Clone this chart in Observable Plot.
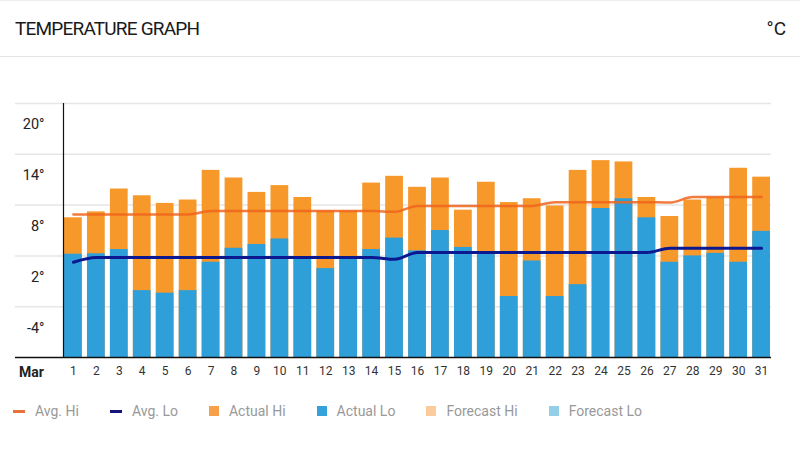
<!DOCTYPE html>
<html>
<head>
<meta charset="utf-8">
<script src="https://cdn.jsdelivr.net/npm/d3@7"></script>
<script src="https://cdn.jsdelivr.net/npm/@observablehq/plot@0.6"></script>
<style>
  html, body { margin: 0; padding: 0; background: #fff; }
  body { width: 800px; height: 452px; overflow: hidden; font-family: "Roboto", sans-serif; }
  #header { position: relative; height: 55px; border-top: 1px solid #eeeeee; border-bottom: 1px solid #e4e4e4; }
  #title { position: absolute; left: 15px; top: 16px; font-size: 19px; color: #1a1a1a; letter-spacing: -0.8px; }
  #unit { position: absolute; right: 14px; top: 16px; font-size: 19px; color: #1a1a1a; }
  #chart { height: 330px; }
  #legend { display: flex; align-items: center; padding-left: 13px; margin-top: 16px; font-family: "Roboto", sans-serif; font-size: 14px; color: #999; }
  .item { display: flex; align-items: center; margin-right: 31px; }
  .sw { margin-right: 10px; }
  .line { width: 12px; height: 3px; }
  .sq { width: 10px; height: 10px; }
</style>
</head>
<body>
<div id="header"><div id="title">TEMPERATURE GRAPH</div><div id="unit">°C</div></div>
<div id="chart"></div>
<div id="legend"></div>
<script>
const days = [1,2,3,4,5,6,7,8,9,10,11,12,13,14,15,16,17,18,19,20,21,22,23,24,25,26,27,28,29,30,31];
const actualHi = [9.0,9.7,12.4,11.6,10.7,11.1,14.6,13.7,12.0,12.8,11.4,9.8,9.8,13.1,13.9,12.6,13.7,9.9,13.2,10.8,11.25,10.4,14.6,15.75,15.6,11.4,9.15,11.1,11.35,14.85,13.8];
const actualLo = [4.7,4.75,5.25,0.4,0.1,0.4,3.75,5.4,5.85,6.5,4.2,3.0,4.2,5.25,6.6,5.1,7.5,5.5,4.9,-0.3,3.9,-0.3,1.1,10.1,11.25,9.0,3.75,4.5,4.8,3.75,7.4];
const avgHi = [9.4,9.4,9.4,9.4,9.4,9.4,9.8,9.8,9.8,9.8,9.8,9.8,9.8,9.8,9.7,10.4,10.4,10.4,10.4,10.4,10.4,10.85,10.85,10.85,10.85,10.85,10.8,11.45,11.45,11.45,11.45];
const avgLo = [3.75,4.3,4.3,4.3,4.3,4.3,4.3,4.3,4.3,4.3,4.3,4.3,4.3,4.3,4.1,4.9,4.9,4.9,4.9,4.9,4.9,4.9,4.9,4.9,4.9,4.9,5.4,5.4,5.4,5.4,5.4];
const yTicks = [20, 14, 8, 2, -4];
const gridValues = [-1.5, 4.5, 10.5, 16.5, 22.5];
const yDomain = [-7.5, 22.5];
const legendItems = [
  {label: "Avg. Hi", color: "#e8713a", kind: "line"},
  {label: "Avg. Lo", color: "#14157a", kind: "line"},
  {label: "Actual Hi", color: "#f7a04a", kind: "sq"},
  {label: "Actual Lo", color: "#35a2dc", kind: "sq"},
  {label: "Forecast Hi", color: "#fccb9c", kind: "sq"},
  {label: "Forecast Lo", color: "#94cfe8", kind: "sq"}
];

const rows = days.map((d, i) => ({day: d, hi: actualHi[i], lo: actualLo[i], avgHi: avgHi[i], avgLo: avgLo[i]}));

const chart = Plot.plot({
  width: 800,
  height: 330,
  marginTop: 46,
  marginBottom: 30,
  marginLeft: 63,
  marginRight: 29,
  style: {fontFamily: "Roboto, sans-serif", background: "white"},
  x: {type: "band", domain: days, paddingInner: 0.226, paddingOuter: 0.045, round: false, axis: null},
  y: {domain: yDomain, axis: null},
  marks: [
    Plot.ruleY(gridValues, {stroke: "#e6e6e6", strokeWidth: 1.5, insetLeft: -48}),
    Plot.barY(rows, {x: "day", y1: yDomain[0], y2: "hi", fill: "#f7982a"}),
    Plot.barY(rows, {x: "day", y1: yDomain[0], y2: "lo", fill: "#2f9fd9"}),
    Plot.line(rows, {x: "day", y: "avgHi", stroke: "#f0641c", strokeWidth: 2.5, strokeOpacity: 0.85, curve: "monotone-x"}),
    Plot.line(rows, {x: "day", y: "avgLo", stroke: "#0c1890", strokeWidth: 3, curve: "monotone-x"}),
    Plot.ruleY([yDomain[0]], {stroke: "#111", strokeWidth: 1.5, insetLeft: -48}),
    Plot.frame({anchor: "left", stroke: "#111", strokeWidth: 1.2}),
    Plot.axisX({tickSize: 0, tickPadding: 9, fontSize: 12, fill: "#333", label: null}),
    Plot.axisY({ticks: yTicks, tickFormat: d => d + "°", tickSize: 0, tickPadding: 19, fontSize: 14.5, fill: "#222", label: null}),
    Plot.text(["Mar"], {frameAnchor: "bottom-left", dx: -32, dy: 15, lineAnchor: "middle", textAnchor: "middle", fontSize: 14, fontWeight: "bold", fill: "#222"})
  ]
});
document.getElementById("chart").appendChild(chart);

const legend = document.getElementById("legend");
for (const it of legendItems) {
  const item = document.createElement("div");
  item.className = "item";
  const sw = document.createElement("div");
  sw.className = "sw " + it.kind;
  sw.style.background = it.color;
  const t = document.createElement("span");
  t.textContent = it.label;
  item.appendChild(sw);
  item.appendChild(t);
  legend.appendChild(item);
}
</script>
</body>
</html>
